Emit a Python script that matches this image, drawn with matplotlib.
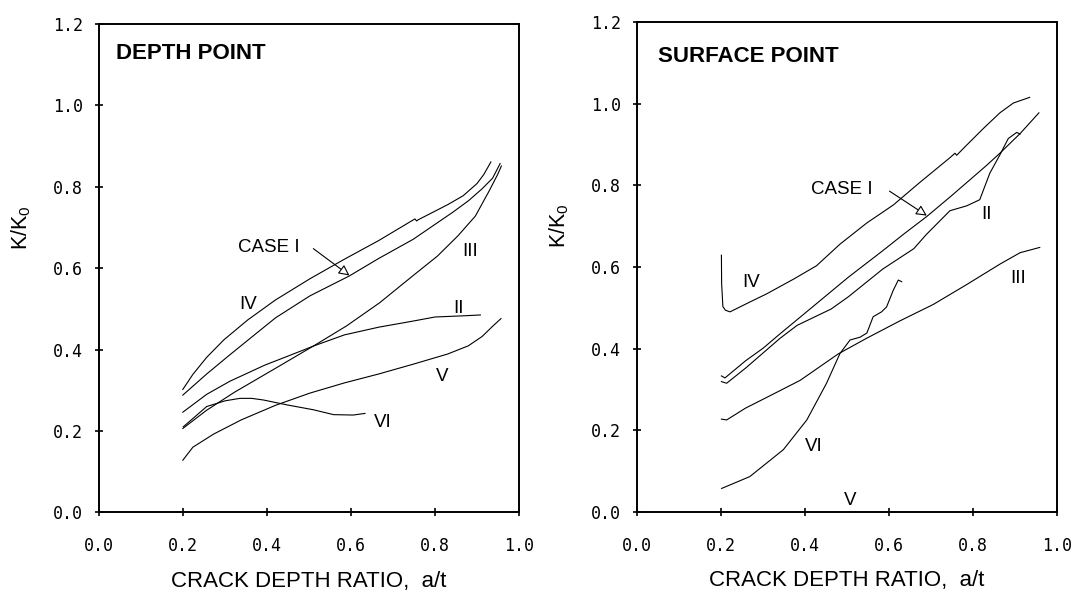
import matplotlib
matplotlib.use("Agg")
import matplotlib.pyplot as plt

plt.rcParams['font.family'] = ['Liberation Sans', 'DejaVu Sans']
plt.rcParams['mathtext.default'] = 'regular'

# ---- DEPTH POINT (left panel) ----
d_iv_x = [0.199, 0.223, 0.256, 0.297, 0.354, 0.420, 0.502, 0.584, 0.666, 0.752, 0.756, 0.760, 0.830, 0.867, 0.900, 0.916, 0.933]
d_iv_y = [0.302, 0.339, 0.381, 0.424, 0.473, 0.522, 0.574, 0.622, 0.668, 0.721, 0.716, 0.719, 0.756, 0.778, 0.808, 0.830, 0.861]

d_i_x = [0.199, 0.256, 0.311, 0.360, 0.420, 0.502, 0.596, 0.666, 0.748, 0.843, 0.880, 0.912, 0.937, 0.955]
d_i_y = [0.288, 0.340, 0.387, 0.428, 0.478, 0.532, 0.581, 0.624, 0.671, 0.738, 0.766, 0.795, 0.821, 0.857]

d_iii_x = [0.199, 0.256, 0.322, 0.420, 0.514, 0.589, 0.668, 0.748, 0.806, 0.855, 0.896, 0.929, 0.949, 0.958]
d_iii_y = [0.206, 0.251, 0.295, 0.354, 0.411, 0.458, 0.515, 0.582, 0.630, 0.680, 0.728, 0.790, 0.830, 0.851]

d_ii_x = [0.199, 0.256, 0.311, 0.395, 0.430, 0.514, 0.584, 0.666, 0.748, 0.800, 0.871, 0.908]
d_ii_y = [0.246, 0.290, 0.322, 0.362, 0.376, 0.410, 0.436, 0.455, 0.470, 0.480, 0.483, 0.485]

d_v_x = [0.199, 0.223, 0.272, 0.338, 0.420, 0.502, 0.584, 0.666, 0.748, 0.830, 0.879, 0.912, 0.937, 0.957]
d_v_y = [0.128, 0.160, 0.192, 0.227, 0.263, 0.293, 0.318, 0.340, 0.364, 0.389, 0.409, 0.432, 0.457, 0.476]

d_vi_x = [0.200, 0.256, 0.300, 0.335, 0.363, 0.391, 0.447, 0.510, 0.558, 0.605, 0.633]
d_vi_y = [0.210, 0.260, 0.274, 0.280, 0.280, 0.276, 0.264, 0.252, 0.240, 0.239, 0.243]

# ---- SURFACE POINT (right panel) ----
s_iv_x = [0.2005, 0.201, 0.204, 0.210, 0.221, 0.268, 0.308, 0.372, 0.427, 0.483, 0.547, 0.610, 0.674,
          0.745, 0.757, 0.761, 0.785, 0.825, 0.864, 0.896, 0.935]
s_iv_y = [0.629, 0.560, 0.503, 0.494, 0.490, 0.514, 0.534, 0.570, 0.603, 0.656, 0.708, 0.752, 0.808,
          0.868, 0.879, 0.874, 0.899, 0.940, 0.978, 1.002, 1.016]

s_i_x = [0.2005, 0.209, 0.258, 0.300, 0.340, 0.421, 0.503, 0.585, 0.634, 0.690, 0.749, 0.831, 0.864, 0.912, 0.957]
s_i_y = [0.333, 0.328, 0.370, 0.401, 0.436, 0.505, 0.575, 0.640, 0.680, 0.724, 0.775, 0.848, 0.879, 0.927, 0.978]

s_ii_x = [0.2005, 0.213, 0.258, 0.340, 0.381, 0.462, 0.503, 0.585, 0.659, 0.689, 0.745, 0.785,
          0.816, 0.840, 0.864, 0.884, 0.904, 0.912]
s_ii_y = [0.319, 0.315, 0.352, 0.425, 0.457, 0.497, 0.527, 0.595, 0.645, 0.680, 0.738, 0.750,
          0.765, 0.830, 0.875, 0.915, 0.930, 0.926]

s_iii_x = [0.2005, 0.213, 0.258, 0.308, 0.388, 0.479, 0.546, 0.626, 0.705, 0.785, 0.864, 0.912, 0.959]
s_iii_y = [0.227, 0.225, 0.254, 0.280, 0.322, 0.387, 0.425, 0.468, 0.508, 0.557, 0.607, 0.635, 0.648]

s_vi_x = [0.201, 0.268, 0.348, 0.404, 0.451, 0.483, 0.507, 0.531, 0.547, 0.562, 0.582, 0.594,
          0.610, 0.622, 0.630]
s_vi_y = [0.057, 0.086, 0.152, 0.225, 0.315, 0.388, 0.421, 0.428, 0.438, 0.478, 0.490, 0.502,
          0.543, 0.568, 0.564]

xticks = [0.0, 0.2, 0.4, 0.6, 0.8, 1.0]
yticks = [0.0, 0.2, 0.4, 0.6, 0.8, 1.0, 1.2]

fig = plt.figure(figsize=(10.77, 5.93), dpi=100)
ax1 = fig.add_axes([0.0922, 0.1361, 0.3897, 0.8234])
ax2 = fig.add_axes([0.5917, 0.1371, 0.3897, 0.8253])

lw = 0.8
txt = 13.5
arrow = dict(arrowstyle='-|>', fc='white', ec='black', lw=0.8,
             mutation_scale=16, shrinkA=0, shrinkB=0)


def style(ax):
    ax.set_xlim(0, 1.0)
    ax.set_ylim(0, 1.2)
    ax.set_xticks(xticks)
    ax.set_yticks(yticks)
    ax.set_xticklabels(['%.1f' % t for t in xticks], family='DejaVu Sans Mono', fontsize=12)
    ax.set_yticklabels(['%.1f' % t for t in yticks], family='DejaVu Sans Mono', fontsize=12)
    ax.tick_params(axis='x', direction='inout', length=6, width=1.2, pad=15)
    ax.tick_params(axis='y', direction='inout', length=6, width=1.2, pad=9)
    for s in ax.spines.values():
        s.set_linewidth(1.4)
    ax.set_xlabel('CRACK DEPTH RATIO,  a/t', fontsize=16, labelpad=11)
    ax.set_ylabel('K/K$_0$', fontsize=15.5)
    ax.yaxis.set_label_coords(-0.158, 0.584)


for x, y in [(d_iv_x, d_iv_y), (d_i_x, d_i_y), (d_iii_x, d_iii_y),
             (d_ii_x, d_ii_y), (d_v_x, d_v_y), (d_vi_x, d_vi_y)]:
    ax1.plot(x, y, color='black', lw=lw)
style(ax1)
ax1.text(0.039, 1.128, 'DEPTH POINT', fontsize=16, fontweight='bold', va='center')
ax1.text(0.404, 0.650, 'CASE I', fontsize=txt, ha='center', va='center')
ax1.annotate('', xy=(0.596, 0.582), xytext=(0.510, 0.648), arrowprops=arrow)
ax1.text(0.354, 0.510, 'IV', fontsize=txt, ha='center', va='center')
ax1.text(0.883, 0.640, 'III', fontsize=txt, ha='center', va='center')
ax1.text(0.855, 0.501, 'II', fontsize=txt, ha='center', va='center')
ax1.text(0.818, 0.334, 'V', fontsize=txt, ha='center', va='center')
ax1.text(0.676, 0.220, 'VI', fontsize=txt, ha='center', va='center')

for x, y in [(s_iv_x, s_iv_y), (s_i_x, s_i_y), (s_ii_x, s_ii_y),
             (s_iii_x, s_iii_y), (s_vi_x, s_vi_y)]:
    ax2.plot(x, y, color='black', lw=lw)
style(ax2)
ax2.text(0.049, 1.115, 'SURFACE POINT', fontsize=16, fontweight='bold', va='center')
ax2.text(0.487, 0.791, 'CASE I', fontsize=txt, ha='center', va='center')
ax2.annotate('', xy=(0.690, 0.726), xytext=(0.601, 0.786), arrowprops=arrow)
ax2.text(0.272, 0.562, 'IV', fontsize=txt, ha='center', va='center')
ax2.text(0.832, 0.729, 'II', fontsize=txt, ha='center', va='center')
ax2.text(0.907, 0.572, 'III', fontsize=txt, ha='center', va='center')
ax2.text(0.421, 0.160, 'VI', fontsize=txt, ha='center', va='center')
ax2.text(0.507, 0.028, 'V', fontsize=txt, ha='center', va='center')

fig.savefig('out.png', dpi=100)
